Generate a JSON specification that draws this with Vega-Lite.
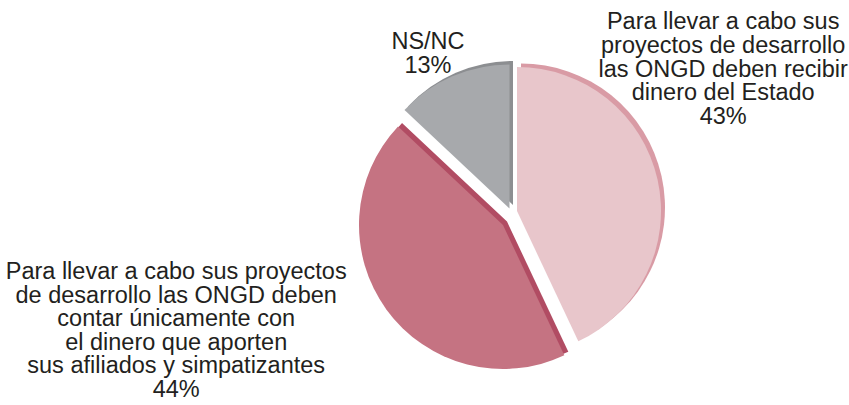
{
  "$schema": "https://vega.github.io/schema/vega-lite/v6.json",
  "width": 300,
  "height": 300,
  "autosize": "none",
  "padding": {"left": 360, "top": 64, "right": 189, "bottom": 41},
  "background": "white",
  "config": {"view": {"stroke": null}},
  "data": {
    "values": [
      {"key": "estado", "order": 1, "pct": 43, "label": "Para llevar a cabo sus\nproyectos de desarrollo\nlas ONGD deben recibir\ndinero del Estado\n43%"},
      {"key": "afiliados", "order": 2, "pct": 44, "label": "Para llevar a cabo sus proyectos\nde desarrollo las ONGD deben\ncontar únicamente con\nel dinero que aporten\nsus afiliados y simpatizantes\n44%"},
      {"key": "nsnc", "order": 3, "pct": 13, "label": "NS/NC\n13%"}
    ]
  },
  "transform": [
    {"stack": "pct", "groupby": [], "sort": [{"field": "order", "order": "ascending"}], "as": ["v0", "v1"]}
  ],
  "layer": [
    {
      "transform": [{"filter": "datum.key === 'estado'"}],
      "mark": {"type": "arc", "radius": 144, "color": "#d99ba5", "xOffset": 11, "yOffset": -6.5},
      "encoding": {
        "theta": {"field": "v0", "type": "quantitative", "scale": {"domain": [0, 100]}},
        "theta2": {"field": "v1"}
      }
    },
    {
      "transform": [{"filter": "datum.key === 'estado'"}],
      "mark": {"type": "arc", "radius": 144, "color": "#e8c6cb", "xOffset": 7, "yOffset": -3},
      "encoding": {
        "theta": {"field": "v0", "type": "quantitative", "scale": {"domain": [0, 100]}},
        "theta2": {"field": "v1"}
      }
    },
    {
      "transform": [{"filter": "datum.key === 'afiliados'"}],
      "mark": {"type": "arc", "radius": 144, "color": "#b14c63", "xOffset": -3, "yOffset": 7.5},
      "encoding": {
        "theta": {"field": "v0", "type": "quantitative", "scale": {"domain": [0, 100]}},
        "theta2": {"field": "v1"}
      }
    },
    {
      "transform": [{"filter": "datum.key === 'afiliados'"}],
      "mark": {"type": "arc", "radius": 144, "color": "#c57382", "xOffset": -7, "yOffset": 11},
      "encoding": {
        "theta": {"field": "v0", "type": "quantitative", "scale": {"domain": [0, 100]}},
        "theta2": {"field": "v1"}
      }
    },
    {
      "transform": [{"filter": "datum.key === 'nsnc'"}],
      "mark": {"type": "arc", "radius": 144, "color": "#8c8e91", "xOffset": 3, "yOffset": -9},
      "encoding": {
        "theta": {"field": "v0", "type": "quantitative", "scale": {"domain": [0, 100]}},
        "theta2": {"field": "v1"}
      }
    },
    {
      "transform": [{"filter": "datum.key === 'nsnc'"}],
      "mark": {"type": "arc", "radius": 144, "color": "#a7a9ac", "xOffset": -0.5, "yOffset": -5.5},
      "encoding": {
        "theta": {"field": "v0", "type": "quantitative", "scale": {"domain": [0, 100]}},
        "theta2": {"field": "v1"}
      }
    },
    {
      "mark": {"type": "text", "radius": 200, "dx": 18, "dy": -148, "align": "center", "baseline": "middle", "lineBreak": "\n", "font": "Liberation Sans", "fontSize": 23.5, "lineHeight": 23.6, "color": "#231f20"},
      "encoding": {
        "theta": {"field": "pct", "type": "quantitative", "stack": true, "scale": {"domain": [0, 100]}},
        "order": {"field": "order", "type": "quantitative"},
        "text": {"condition": {"test": "datum.key === 'estado'", "field": "label"}, "value": ""}
      }
    },
    {
      "mark": {"type": "text", "radius": 200, "dx": -172, "dy": -59.5, "align": "center", "baseline": "middle", "lineBreak": "\n", "font": "Liberation Sans", "fontSize": 23.5, "lineHeight": 23.6, "color": "#231f20"},
      "encoding": {
        "theta": {"field": "pct", "type": "quantitative", "stack": true, "scale": {"domain": [0, 100]}},
        "order": {"field": "order", "type": "quantitative"},
        "text": {"condition": {"test": "datum.key === 'afiliados'", "field": "label"}, "value": ""}
      }
    },
    {
      "mark": {"type": "text", "radius": 170, "dx": -14.5, "dy": -16, "align": "center", "baseline": "middle", "lineBreak": "\n", "font": "Liberation Sans", "fontSize": 23.5, "lineHeight": 23.6, "color": "#231f20"},
      "encoding": {
        "theta": {"field": "pct", "type": "quantitative", "stack": true, "scale": {"domain": [0, 100]}},
        "order": {"field": "order", "type": "quantitative"},
        "text": {"condition": {"test": "datum.key === 'nsnc'", "field": "label"}, "value": ""}
      }
    }
  ]
}
